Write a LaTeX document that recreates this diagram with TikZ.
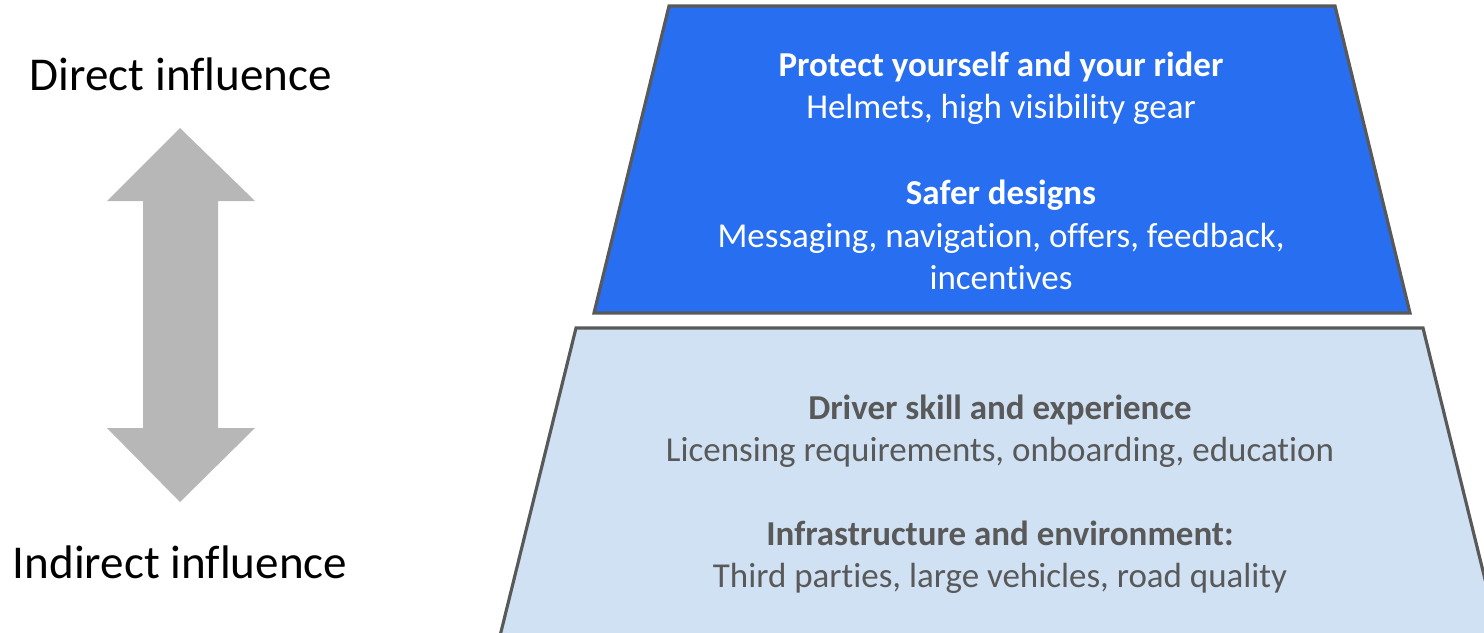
\documentclass[tikz,border=0pt]{standalone}
\usepackage{fontspec}
\setmainfont{Carlito}[Ligatures=NoCommon]
\usepackage{tikz}
\usetikzlibrary{positioning}
\definecolor{cTop}{HTML}{276EF1}
\definecolor{cLow}{HTML}{CFE1F2}
\definecolor{cEdge}{HTML}{595959}
\definecolor{cArrow}{HTML}{B7B7B7}
\definecolor{cText}{HTML}{595959}

\begin{document}
\begin{tikzpicture}[line join=miter,
   tier/.style={draw=cEdge,line width=0.9pt},
   lbl/.style={font=\fontsize{13.4}{16}\selectfont,inner sep=0pt},
   blk/.style={align=center,font=\fontsize{9.95}{12}\selectfont,inner sep=0pt}]
  \useasboundingbox (0,0) rectangle (14.84,-6.32);
  \begin{scope}
    \clip (0,0) rectangle (14.84,-6.32);
    % lower tier
    \draw[tier,fill=cLow] (5.76,-3.28) -- (14.23,-3.28) -- (15.00,-6.40)
         -- (4.99,-6.40) -- cycle;
  \end{scope}
  % upper tier
  \draw[tier,fill=cTop] (6.69,-0.06) -- (13.35,-0.06) -- (14.10,-3.13)
       -- (5.94,-3.13) -- cycle;
  % double arrow
  \fill[cArrow] (1.80,-1.28) -- (2.55,-2.01) -- (2.18,-2.01) -- (2.18,-4.28)
       -- (2.55,-4.28) -- (1.80,-5.02) -- (1.07,-4.28) -- (1.43,-4.28)
       -- (1.43,-2.01) -- (1.07,-2.01) -- cycle;
  % side labels
  \node[lbl] (direct) at (1.81,-0.74) {Direct influence};
  \node[lbl] (indirect) at (1.80,-5.62) {Indirect influence};
  % tier texts
  \node[blk,white] (protect) at (10.01,-0.885)
       {\textbf{Protect yourself and your rider}\\Helmets, high visibility gear};
  \node[blk,white] (safer) at (10.01,-2.35)
       {\textbf{Safer designs}\\Messaging, navigation, offers, feedback,\\incentives};
  \node[blk,cText] (skill) at (10.00,-4.315)
       {\textbf{Driver skill and experience}\\Licensing requirements, onboarding, education};
  \node[blk,cText] (infra) at (10.00,-5.575)
       {\textbf{Infrastructure and environment:}\\Third parties, large vehicles, road quality};
\end{tikzpicture}
\end{document}
